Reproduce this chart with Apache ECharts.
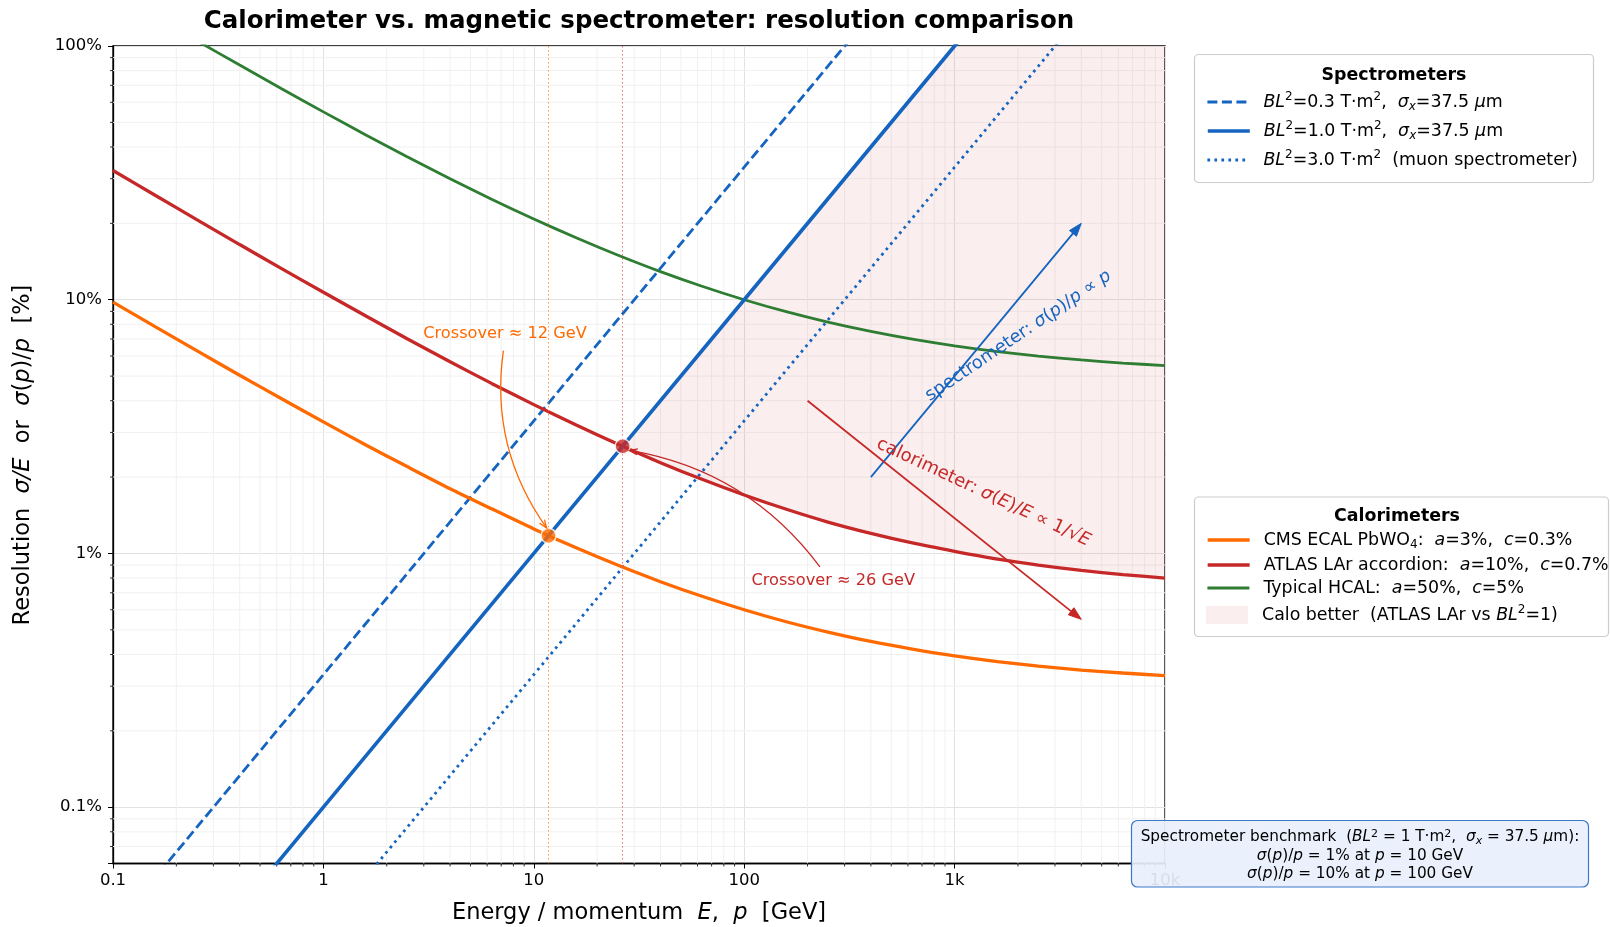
<!DOCTYPE html>
<html><head><meta charset="utf-8">
<script src="https://cdn.jsdelivr.net/npm/echarts@6/dist/echarts.min.js"></script>
<style>html,body{margin:0;padding:0;background:#fff}#c{width:1610px;height:927px}</style>
</head><body><div id="c"></div>
<script>
// ---------------- DATA ----------------
const energies = [0.1, 0.16, 0.25, 0.4, 0.63, 1, 1.6, 2.5, 4, 6.3, 10, 16, 25, 40, 63, 100, 160, 250, 400, 630, 1000, 1600, 2500, 4000, 6300, 10000];
const cmsEcal  = [9.79, 7.8, 6.3, 5.04, 4.08, 3.3, 2.67, 2.20, 1.8, 1.50, 1.25, 1.05, 0.90, 0.774, 0.678, 0.60, 0.537, 0.49, 0.45, 0.42, 0.395, 0.375, 0.36, 0.347, 0.338, 0.33];
const atlasLar = [32.3, 25.7, 20.7, 16.5, 13.3, 10.7, 8.61, 7.02, 5.7, 4.68, 3.86, 3.2, 2.7, 2.28, 1.96, 1.70, 1.49, 1.33, 1.2, 1.10, 1.02, 0.95, 0.9, 0.858, 0.826, 0.80];
const hcal     = [163, 130, 105, 84.1, 68, 55, 44.5, 36.6, 30, 24.9, 20.8, 17.5, 15, 12.9, 11.3, 10.0, 8.95, 8.16, 7.5, 6.99, 6.58, 6.25, 6.0, 5.79, 5.63, 5.5];

const momenta  = [0.1, 1, 10, 100, 1000, 10000];
const specBL03 = [0.0333, 0.333, 3.33, 33.3, 333, 3333];
const specBL10 = [0.01, 0.1, 1, 10, 100, 1000];
const specBL30 = [0.00333, 0.0333, 0.333, 3.33, 33.3, 333];

const crossCms   = [11.75, 1.175];
const crossAtlas = [26.45, 2.645];

const xTickValues = [0.1, 1, 10, 100, 1000, 10000];
const xTickLabels = ['0.1', '1', '10', '100', '1k', '10k'];
const yTickValues = [0.1, 1, 10, 100];
const yTickLabels = ['0.1%', '1%', '10%', '100%'];
const xDecades = [0.1, 1, 10, 100, 1000];
const yDecades = [0.01, 0.1, 1, 10];
const minorSteps = [2, 3, 4, 5, 6, 7, 8, 9];

// annotation anchors (data coordinates)
const annCrossCms   = {text: 'Crossover ≈ 12 GeV', at: [7.3, 7.36], from: [7.17, 6.3]};
const annCrossAtlas = {text: 'Crossover ≈ 26 GeV', at: [265, 0.78], from: [229, 0.885]};
const annSpecArrow  = {from: [400, 2], to: [4000, 20]};
const annCaloArrow  = {from: [200, 4], to: [4000, 0.55]};
const annSpecText   = {at: [2010, 7.2]};
const annCaloText   = {at: [1370, 1.74]};

// ---------------- STYLE ----------------
const F = "'DejaVu Sans', sans-serif";
const BLUE = '#1565c0', ORANGE = '#ff6a00', RED = '#c62828', GREEN = '#2e7d32';
const FILL = 'rgba(198,40,40,0.08)';

function richSet(size) {
  const s = Math.round(size * 0.7), lh = Math.round(size * 0.75);
  return {
    i:   {fontStyle: 'italic', fontSize: size, fontFamily: F},
    sup: {fontSize: s, fontFamily: F, verticalAlign: 'top', lineHeight: lh},
    sub: {fontSize: s, fontFamily: F, verticalAlign: 'bottom', lineHeight: lh},
    isub:{fontStyle: 'italic', fontSize: s, fontFamily: F, verticalAlign: 'bottom', lineHeight: lh}
  };
}

const names = {
  s03: 'BL2=0.3', s10: 'BL2=1.0', s30: 'BL2=3.0',
  cms: 'CMS ECAL', atl: 'ATLAS LAr', hc: 'Typical HCAL', fill: 'Calo better'
};
const legendText = {};
legendText[names.s03] = '{i|BL}{sup|2}=0.3 T·m{sup|2},  {i|σ}{isub|x}=37.5 {i|μ}m';
legendText[names.s10] = '{i|BL}{sup|2}=1.0 T·m{sup|2},  {i|σ}{isub|x}=37.5 {i|μ}m';
legendText[names.s30] = '{i|BL}{sup|2}=3.0 T·m{sup|2}  (muon spectrometer)';
legendText[names.cms] = 'CMS ECAL PbWO{sub|4}:  {i|a}=3%,  {i|c}=0.3%';
legendText[names.atl] = 'ATLAS LAr accordion:  {i|a}=10%,  {i|c}=0.7%';
legendText[names.hc]  = 'Typical HCAL:  {i|a}=50%,  {i|c}=5%';
legendText[names.fill]= 'Calo better  (ATLAS LAr vs {i|BL}{sup|2}=1)';

const zip = (xs, ys) => xs.map((x, i) => [x, ys[i]]);

// minor tick lists
const xMinor = [], yMinor = [];
xDecades.forEach(d => minorSteps.forEach(k => xMinor.push([k * d, 1])));
yDecades.forEach(d => minorSteps.forEach(k => { const v = k * d; if (v > 0.0605 && v < 100) yMinor.push([1, v]); }));

function tickLabel(values, labels) {
  return function (v) {
    for (let i = 0; i < values.length; i++) {
      if (Math.abs(Math.log10(v) - Math.log10(values[i])) < 1e-6) return labels[i];
    }
    return '';
  };
}

// ------------- helpers for arrows -------------
function arrowHead(tip, from, len, wid, color, filled, lw) {
  const dx = tip[0] - from[0], dy = tip[1] - from[1];
  const L = Math.hypot(dx, dy); const ux = dx / L, uy = dy / L;
  const bx = tip[0] - ux * len, by = tip[1] - uy * len;
  const p1 = [bx - uy * wid / 2, by + ux * wid / 2], p2 = [bx + uy * wid / 2, by - ux * wid / 2];
  if (filled) return {type: 'polygon', shape: {points: [tip, p1, p2]}, style: {fill: color, stroke: color, lineWidth: 1}};
  return {type: 'polyline', shape: {points: [p1, tip, p2]}, style: {fill: null, stroke: color, lineWidth: lw}};
}
function shrink(a, b, d) { // move point b towards a by d px
  const dx = b[0] - a[0], dy = b[1] - a[1]; const L = Math.hypot(dx, dy);
  return [b[0] - dx / L * d, b[1] - dy / L * d];
}
function curvedArrow(api, fromD, toD, rad, color, shrinkEnd) {
  const s = api.coord(fromD); let e = api.coord(toD);
  e = shrink(s, e, shrinkEnd);
  const mx = (s[0] + e[0]) / 2, my = (s[1] + e[1]) / 2;
  const dx = e[0] - s[0], dys = e[1] - s[1];
  const cp = [mx - rad * dys, my + rad * dx];
  return [
    {type: 'bezierCurve', shape: {x1: s[0], y1: s[1], x2: e[0], y2: e[1], cpx1: cp[0], cpy1: cp[1]}, style: {fill: null, stroke: color, lineWidth: 1.3}},
    arrowHead(e, cp, 8, 6, color, false, 1.3)
  ];
}
function straightArrow(api, fromD, toD, color) {
  const s = api.coord(fromD), e = api.coord(toD);
  const base = shrink(s, e, 12);
  return [
    {type: 'line', shape: {x1: s[0], y1: s[1], x2: base[0], y2: base[1]}, style: {stroke: color, lineWidth: 1.8}},
    arrowHead(e, s, 13, 9, color, true, 1.8)
  ];
}

const chart = echarts.init(document.getElementById('c'), null, {renderer: 'canvas'});

const fillLower = [crossAtlas].concat(zip(energies, atlasLar).filter(p => p[0] > crossAtlas[0]));
const fillUpper = [crossAtlas, [momenta[momenta.length - 1], specBL10[specBL10.length - 1]]];

const LEG_FS = 17.4;
function legendItem(name, top, lineW, extra) {
  return Object.assign({
    show: true, orient: 'vertical', left: 1206, top: top, padding: 0,
    itemWidth: 42, itemHeight: 16, z: 10,
    data: [name], selectedMode: false,
    itemStyle: {color: 'rgba(0,0,0,0)', borderColor: 'rgba(0,0,0,0)', borderWidth: 0, opacity: 0},
    lineStyle: {width: lineW},
    formatter: n => legendText[n],
    textStyle: {fontFamily: F, fontSize: LEG_FS, color: '#000', lineHeight: 22, padding: [0, 0, 0, 9], rich: richSet(LEG_FS)}
  }, extra || {});
}

const W_SPEC = 2.8, W_SPEC1 = 3.6, W_CALO = 3.3, W_HCAL = 2.8;

const option = {
  animation: false,
  backgroundColor: '#fff',
  grid: {left: 113, top: 46, right: 445, bottom: 63.5, show: true, borderColor: '#000', borderWidth: 1.3, backgroundColor: 'transparent', containLabel: false},
  xAxis: {
    type: 'log', logBase: 10, min: 0.1, max: 10000,
    axisLine: {show: true, onZero: false, lineStyle: {color: '#000', width: 1.3}},
    axisTick: {show: true, inside: false, length: 5, lineStyle: {color: '#000', width: 1}},
    axisLabel: {show: true, margin: 9, fontFamily: F, fontSize: 16.5, color: '#000', formatter: tickLabel(xTickValues, xTickLabels), showMinLabel: true, showMaxLabel: true},
    splitLine: {show: true, lineStyle: {color: '#e2e2e2', width: 1}},
    minorTick: {show: false}, minorSplitLine: {show: false}
  },
  yAxis: {
    type: 'log', logBase: 10, min: 0.06, max: 100,
    axisLine: {show: true, onZero: false, lineStyle: {color: '#000', width: 1.3}},
    axisTick: {show: true, inside: false, length: 5, lineStyle: {color: '#000', width: 1}},
    axisLabel: {show: true, margin: 11, fontFamily: F, fontSize: 16.5, color: '#000', formatter: tickLabel(yTickValues, yTickLabels), showMinLabel: true, showMaxLabel: true},
    splitLine: {show: true, lineStyle: {color: '#e2e2e2', width: 1}},
    minorTick: {show: false}, minorSplitLine: {show: false}
  },
  legend: [
    legendItem(names.s03, 91, W_SPEC),
    legendItem(names.s10, 120, W_SPEC1),
    legendItem(names.s30, 149, W_SPEC),
    legendItem(names.cms, 529, W_CALO),
    legendItem(names.atl, 554, W_CALO),
    legendItem(names.hc, 577, W_HCAL),
    legendItem(names.fill, 604, 0, {itemHeight: 18, data: [{name: names.fill, icon: 'rect', itemStyle: {color: FILL, borderWidth: 0, opacity: 1}}], itemStyle: {}})
  ],
  graphic: [
    {type: 'text', z: 20, x: 639, y: 22, style: {text: 'Calorimeter vs. magnetic spectrometer: resolution comparison', fontFamily: F, fontSize: 24.5, fontWeight: 'bold', fill: '#000', align: 'center', verticalAlign: 'middle'}},
    {type: 'text', z: 20, x: 639, y: 913, style: {text: 'Energy / momentum  {i|E},  {i|p}  [GeV]', rich: richSet(22.5), fontFamily: F, fontSize: 22.5, fill: '#000', align: 'center', verticalAlign: 'middle'}},
    {type: 'text', z: 20, x: 23, y: 455, rotation: Math.PI / 2, style: {text: 'Resolution  {i|σ/E}  or  {i|σ}({i|p})/{i|p}  [%]', rich: richSet(22.5), fontFamily: F, fontSize: 22.5, fill: '#000', align: 'center', verticalAlign: 'middle'}},
    // legend boxes
    {type: 'rect', z: 2, shape: {x: 1194.5, y: 54.5, width: 399, height: 128, r: 4}, style: {fill: '#fff', stroke: '#cccccc', lineWidth: 1.2}},
    {type: 'text', z: 20, x: 1394, y: 75, style: {text: 'Spectrometers', fontFamily: F, fontSize: LEG_FS, fontWeight: 'bold', fill: '#000', align: 'center', verticalAlign: 'middle'}},
    {type: 'rect', z: 2, shape: {x: 1194.5, y: 497, width: 414, height: 139.5, r: 4}, style: {fill: '#fff', stroke: '#cccccc', lineWidth: 1.2}},
    {type: 'text', z: 20, x: 1397, y: 516.5, style: {text: 'Calorimeters', fontFamily: F, fontSize: LEG_FS, fontWeight: 'bold', fill: '#000', align: 'center', verticalAlign: 'middle'}},
    // benchmark box
    {type: 'rect', z: 50, shape: {x: 1131.5, y: 820.5, width: 457, height: 66.5, r: 6}, style: {fill: 'rgba(232,240,253,0.92)', stroke: '#3a78c9', lineWidth: 1.2}},
    {type: 'text', z: 51, x: 1360, y: 856, style: {
      text: 'Spectrometer benchmark  ({i|BL}{sup|2} = 1 T·m{sup|2},  {i|σ}{isub|x} = 37.5 {i|μ}m):\n{i|σ}({i|p})/{i|p} = 1% at {i|p} = 10 GeV\n{i|σ}({i|p})/{i|p} = 10% at {i|p} = 100 GeV',
      rich: richSet(15.3), fontFamily: F, fontSize: 15.3, lineHeight: 18.5, fill: '#000', align: 'center', verticalAlign: 'middle'}}
  ],
  series: [
    { // minor x grid + ticks
      type: 'custom', silent: true, z: 1, data: xMinor,
      renderItem: function (params, api) {
        const cs = params.coordSys; const p = api.coord([api.value(0), api.value(1)]);
        const bottom = cs.y + cs.height;
        return {type: 'group', children: [
          {type: 'line', shape: {x1: p[0], y1: cs.y, x2: p[0], y2: bottom}, style: {stroke: '#f1f1f1', lineWidth: 1}},
          {type: 'line', shape: {x1: p[0], y1: bottom, x2: p[0], y2: bottom + 3}, style: {stroke: '#000', lineWidth: 0.8}}
        ]};
      }
    },
    { // minor y grid + ticks
      type: 'custom', silent: true, z: 1, data: yMinor,
      renderItem: function (params, api) {
        const cs = params.coordSys; const p = api.coord([api.value(0), api.value(1)]);
        return {type: 'group', children: [
          {type: 'line', shape: {x1: cs.x, y1: p[1], x2: cs.x + cs.width, y2: p[1]}, style: {stroke: '#f1f1f1', lineWidth: 1}},
          {type: 'line', shape: {x1: cs.x - 3, y1: p[1], x2: cs.x, y2: p[1]}, style: {stroke: '#000', lineWidth: 0.8}}
        ]};
      }
    },
    { // shaded region where calorimeter is better
      name: names.fill, type: 'custom', silent: true, z: 2, clip: true,
      itemStyle: {color: FILL}, data: [[1, 1]],
      renderItem: function (params, api) {
        const pts = fillLower.map(p => api.coord(p)).concat(fillUpper.slice().reverse().map(p => api.coord(p)));
        return {type: 'polygon', shape: {points: pts}, style: {fill: FILL, stroke: null}};
      }
    },
    {name: names.hc,  type: 'line', z: 3, data: zip(energies, hcal), symbol: 'none', smooth: 0.25, lineStyle: {color: GREEN, width: W_HCAL}, itemStyle: {color: GREEN}},
    {name: names.s03, type: 'line', z: 3, data: zip(momenta, specBL03), symbol: 'none', lineStyle: {color: BLUE, width: W_SPEC, type: [10, 4.5]}, itemStyle: {color: BLUE}},
    {name: names.s30, type: 'line', z: 3, data: zip(momenta, specBL30), symbol: 'none', lineStyle: {color: BLUE, width: W_SPEC, type: [2.7, 4.3]}, itemStyle: {color: BLUE}},
    {name: names.cms, type: 'line', z: 4, data: zip(energies, cmsEcal), symbol: 'none', smooth: 0.25, lineStyle: {color: ORANGE, width: W_CALO}, itemStyle: {color: ORANGE}},
    {name: names.atl, type: 'line', z: 4, data: zip(energies, atlasLar), symbol: 'none', smooth: 0.25, lineStyle: {color: RED, width: W_CALO}, itemStyle: {color: RED}},
    {name: names.s10, type: 'line', z: 4, data: zip(momenta, specBL10), symbol: 'none', lineStyle: {color: BLUE, width: W_SPEC1}, itemStyle: {color: BLUE}},
    { // crossover markers + guide lines
      name: 'crossCms', type: 'scatter', z: 6, data: [crossCms], symbolSize: 15,
      itemStyle: {color: ORANGE, borderColor: '#fff', borderWidth: 1.5},
      markLine: {silent: true, symbol: 'none', label: {show: false}, lineStyle: {color: ORANGE, width: 1, type: [1.5, 2.5], opacity: 0.7}, data: [{xAxis: crossCms[0]}]}
    },
    {
      name: 'crossAtlas', type: 'scatter', z: 6, data: [crossAtlas], symbolSize: 15,
      itemStyle: {color: RED, borderColor: '#fff', borderWidth: 1.5},
      markLine: {silent: true, symbol: 'none', label: {show: false}, lineStyle: {color: '#e05050', width: 1, type: [1.5, 2.5], opacity: 0.8}, data: [{xAxis: crossAtlas[0]}]}
    },
    { // annotations
      type: 'custom', silent: true, z: 8, data: [[1, 1]],
      renderItem: function (params, api) {
        const ch = [];
        ch.push.apply(ch, curvedArrow(api, annCrossCms.from, crossCms, 0.2, ORANGE, 8));
        ch.push.apply(ch, curvedArrow(api, annCrossAtlas.from, crossAtlas, 0.2, RED, 8));
        ch.push.apply(ch, straightArrow(api, annSpecArrow.from, annSpecArrow.to, BLUE));
        ch.push.apply(ch, straightArrow(api, annCaloArrow.from, annCaloArrow.to, RED));
        const t1 = api.coord(annCrossCms.at), t2 = api.coord(annCrossAtlas.at);
        ch.push({type: 'text', x: t1[0], y: t1[1], style: {text: annCrossCms.text, fontFamily: F, fontSize: 16.2, fill: ORANGE, align: 'center', verticalAlign: 'middle'}});
        ch.push({type: 'text', x: t2[0], y: t2[1], style: {text: annCrossAtlas.text, fontFamily: F, fontSize: 16.2, fill: RED, align: 'center', verticalAlign: 'middle'}});
        const t3 = api.coord(annSpecText.at), t4 = api.coord(annCaloText.at);
        ch.push({type: 'text', x: t3[0], y: t3[1], rotation: 34 * Math.PI / 180, style: {text: 'spectrometer: {i|σ}({i|p})/{i|p} ∝ {i|p}', rich: richSet(17.8), fontFamily: F, fontSize: 17.8, fill: BLUE, align: 'center', verticalAlign: 'middle'}});
        ch.push({type: 'text', x: t4[0], y: t4[1], rotation: -25 * Math.PI / 180, style: {text: 'calorimeter: {i|σ}({i|E})/{i|E} ∝ 1/√{i|E}', rich: richSet(18), fontFamily: F, fontSize: 18, fill: RED, align: 'center', verticalAlign: 'middle'}});
        return {type: 'group', children: ch};
      }
    }
  ]
};
chart.setOption(option);
</script>
</body></html>
